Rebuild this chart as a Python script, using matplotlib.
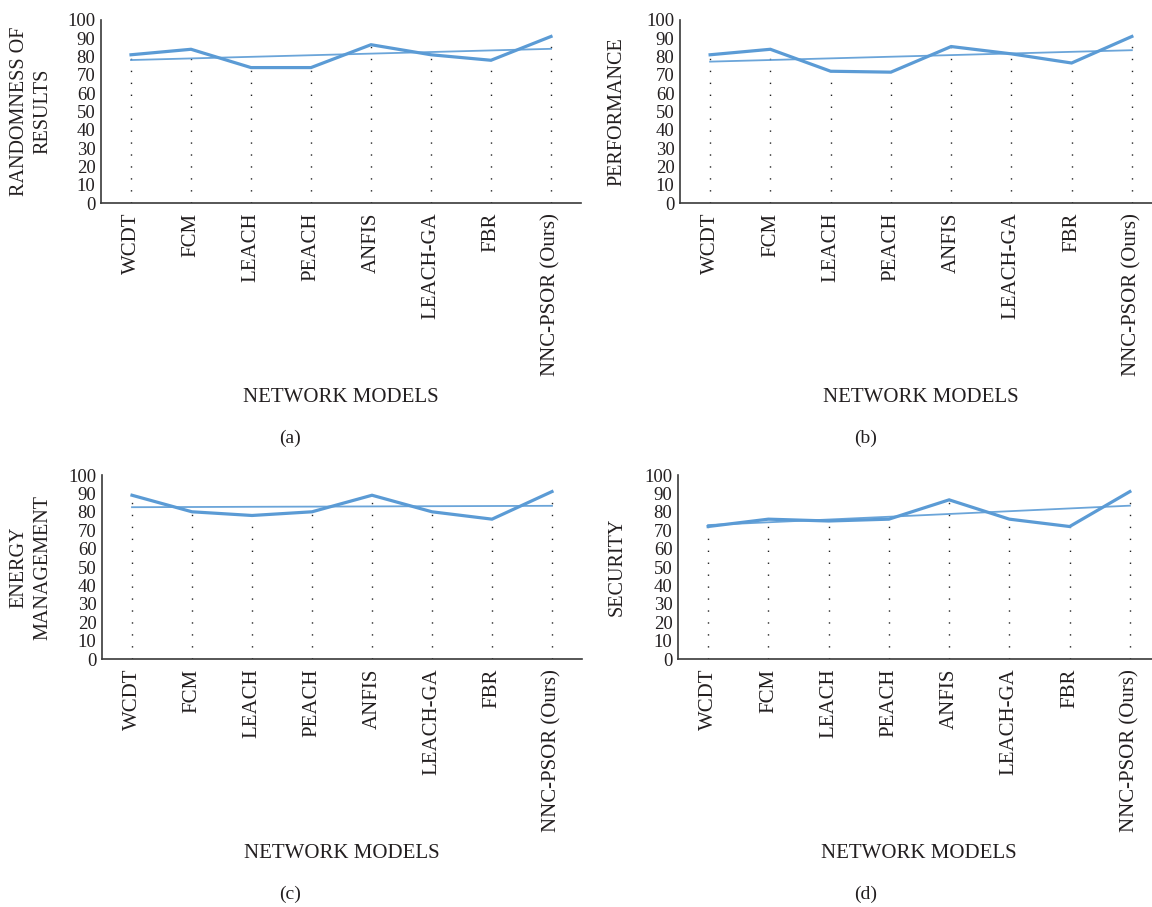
import numpy as np
import matplotlib
matplotlib.use("Agg")
import matplotlib.pyplot as plt

plt.rcParams["font.family"] = ["Liberation Serif", "DejaVu Serif"]

models = ["WCDT", "FCM", "LEACH", "PEACH", "ANFIS", "LEACH-GA", "FBR", "NNC-PSOR (Ours)"]

randomness = [81, 84, 74, 74, 86.5, 81, 78, 91]
performance = [81, 84, 72, 71.5, 85.5, 81.5, 76.5, 91]
energy = [89, 80, 78, 80, 89, 80, 76, 91]
security = [72, 76, 75, 76, 86.5, 76, 72, 91]

ylabels = ["RANDOMNESS OF\nRESULTS", "PERFORMANCE", "ENERGY\nMANAGEMENT", "SECURITY"]
letters = ["(a)", "(b)", "(c)", "(d)"]

W, H = 1152, 907
BLUE = "#5b9bd5"
DARK = "#231f20"

fig = plt.figure(figsize=(W / 100, H / 100), dpi=100)

# axes boxes in pixels: left, right, top, bottom
boxes = [(101, 581, 20, 203), (680, 1162, 20, 203),
         (102, 582, 475, 659), (678, 1160, 475, 659)]
ylabel_x = [31, 617, 31, 617]
xlabel_y = [398, 398, 853, 853]
letter_y = [438, 438, 894, 894]
letter_x = [290, 866, 290, 866]

series = [randomness, performance, energy, security]
x = np.arange(len(models))

for i, vals in enumerate(series):
    l, r, t, b = boxes[i]
    ax = fig.add_axes([l / W, (H - b) / H, (r - l) / W, (b - t) / H])
    vals = np.array(vals, dtype=float)

    # dotted drop lines from the axis up to each value
    for xi, v in zip(x, vals):
        ax.plot([xi, xi], [0, v], color="#222222", lw=1.0,
                linestyle=(0, (1, 7.6)), zorder=1)

    # linear trend
    k, c = np.polyfit(x + 1, vals, 1)
    ax.plot(x, k * (x + 1) + c, color=BLUE, lw=1.3, alpha=0.9, zorder=2)
    ax.plot(x, vals, color=BLUE, lw=2.3, zorder=3, solid_joinstyle="miter")

    ax.set_xlim(-0.5, len(models) - 0.5)
    ax.set_ylim(0, 100)
    ax.set_yticks(range(0, 101, 10))
    ax.set_xticks(x)
    ax.set_xticklabels(models, rotation=90, fontsize=15, color=DARK)
    ax.tick_params(axis="y", length=0, pad=4, labelsize=13.5, labelcolor=DARK)
    ax.tick_params(axis="x", length=0, pad=7)
    for sp in ["top", "right"]:
        ax.spines[sp].set_visible(False)
    for sp in ["left", "bottom"]:
        ax.spines[sp].set_color("#3a3a3a")
        ax.spines[sp].set_linewidth(1.2)

    fig.text(ylabel_x[i] / W, 1 - (t + b) / 2 / H, ylabels[i], rotation=90,
             ha="center", va="center", fontsize=14.5, color=DARK,
             linespacing=1.3, multialignment="center")
    fig.text((l + r) / 2 / W, 1 - xlabel_y[i] / H, "NETWORK MODELS",
             ha="center", va="center", fontsize=15, color=DARK)
    fig.text(letter_x[i] / W, 1 - letter_y[i] / H, letters[i],
             ha="center", va="center", fontsize=14, color=DARK)

fig.savefig("out.png", dpi=100)
